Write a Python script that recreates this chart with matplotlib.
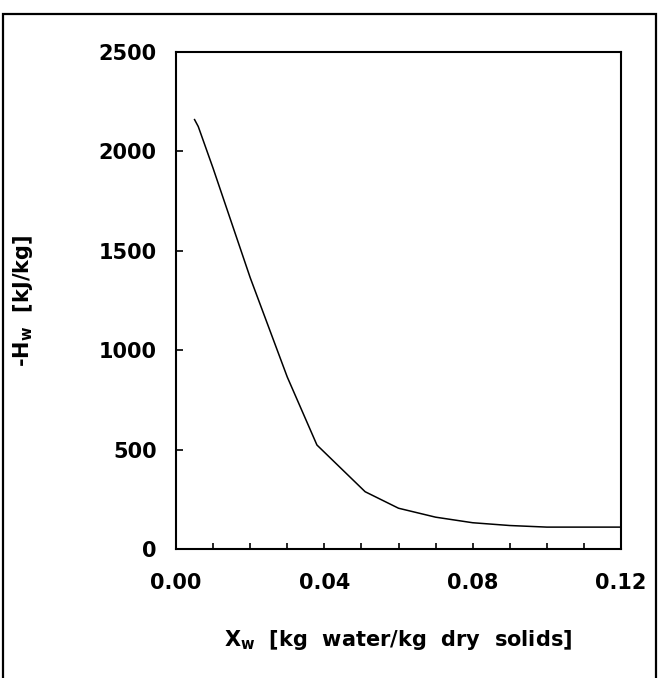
import numpy as np
import matplotlib
matplotlib.use("Agg")
import matplotlib.pyplot as plt
from matplotlib.patches import Rectangle

# moisture content vs heat of sorption
moisture = [0.005, 0.006, 0.01, 0.02, 0.03, 0.038, 0.051, 0.06, 0.07, 0.08, 0.09, 0.10, 0.12]
heat = [2160, 2125, 1915, 1365, 865, 523, 288, 205, 160, 132, 118, 110, 110]

xticks = [0.00, 0.04, 0.08, 0.12]
xtick_labels = ["0.00", "0.04", "0.08", "0.12"]
yticks = [0, 500, 1000, 1500, 2000, 2500]
ytick_labels = ["0", "500", "1000", "1500", "2000", "2500"]

plt.rcParams['font.family'] = ['DejaVu Sans']
plt.rcParams['font.weight'] = 'bold'
plt.rcParams['mathtext.default'] = 'bf'

fig = plt.figure(figsize=(6.58, 6.78), dpi=100)
ax = fig.add_axes([0.2675, 0.1903, 0.6763, 0.733])

# outer frame around the whole figure
fig.patches.append(Rectangle((0.005, -0.02), 0.992, 0.999, transform=fig.transFigure,
                             fill=False, edgecolor='black', linewidth=1.6))

ax.plot(moisture, heat, color='black', linewidth=1.1)

ax.set_xlim(0, 0.12)
ax.set_ylim(0, 2500)

ax.set_xticks(xticks)
ax.set_xticklabels(xtick_labels, fontsize=15, fontweight='bold')
ax.set_xticks(np.arange(0, 0.121, 0.01), minor=True)
ax.set_yticks(yticks)
ax.set_yticklabels(ytick_labels, fontsize=15, fontweight='bold')

ax.tick_params(axis='x', which='both', direction='in', length=4, width=1.2, pad=17)
ax.tick_params(axis='y', which='major', direction='in', length=5, width=1.2, pad=14)

for sp in ax.spines.values():
    sp.set_linewidth(1.5)

ax.set_xlabel(r"X$_\mathbf{w}$  [kg  water/kg  dry  solids]", fontsize=15, fontweight='bold', va='center')
ax.xaxis.set_label_coords(0.5, -0.183)
ax.set_ylabel(r"-H$_\mathbf{w}$  [kJ/kg]", fontsize=15, fontweight='bold', va='center')
ax.yaxis.set_label_coords(-0.344, 0.5)

fig.savefig("out.png", dpi=100)
